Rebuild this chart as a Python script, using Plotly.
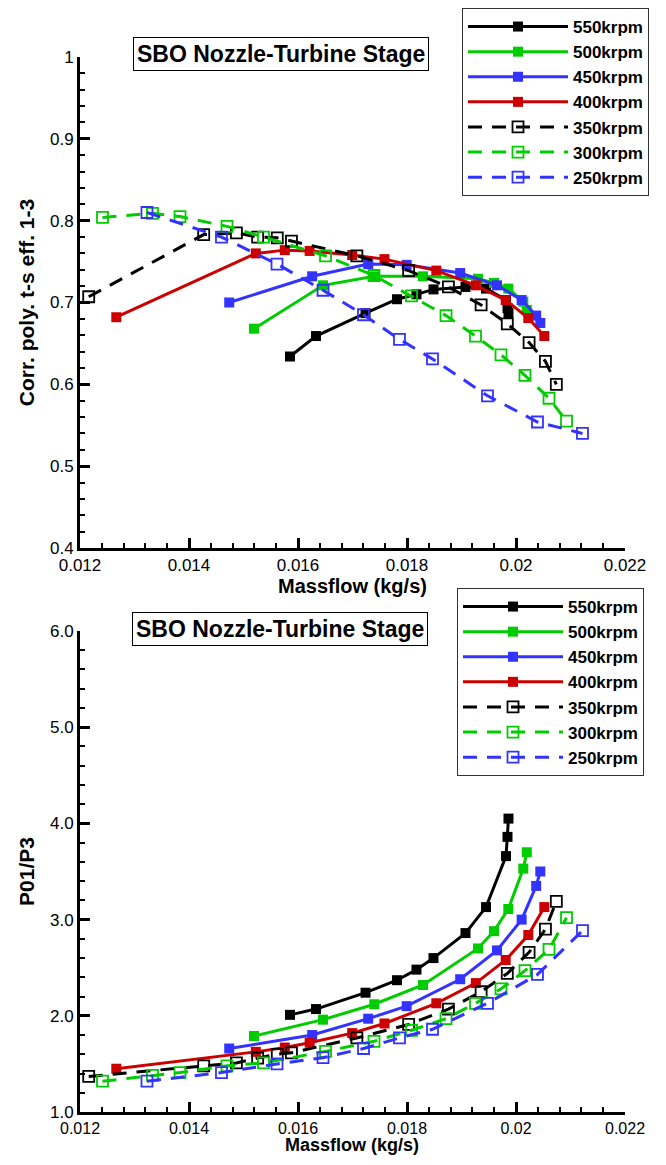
import plotly.graph_objects as go

# ---------------- data ----------------
speeds = ["550krpm", "500krpm", "450krpm", "400krpm", "350krpm", "300krpm", "250krpm"]

m550 = [0.015853, 0.016330, 0.017239, 0.017817, 0.018174, 0.018486, 0.019073, 0.019450, 0.019817, 0.019844, 0.019862]
eff550 = [0.634, 0.659, 0.687, 0.704, 0.710, 0.716, 0.719, 0.717, 0.703, 0.693, 0.687]
pr550 = [2.01, 2.07, 2.24, 2.37, 2.48, 2.60, 2.86, 3.13, 3.66, 3.86, 4.05]

m500 = [0.015193, 0.016459, 0.017400, 0.018294, 0.019303, 0.019596, 0.019859, 0.020134, 0.020198]
eff500 = [0.668, 0.721, 0.732, 0.732, 0.729, 0.724, 0.717, 0.701, 0.691]
pr500 = [1.79, 1.96, 2.12, 2.32, 2.70, 2.88, 3.11, 3.53, 3.70]

m450 = [0.014738, 0.016260, 0.017288, 0.017994, 0.018976, 0.019651, 0.020104, 0.020370, 0.020446]
eff450 = [0.700, 0.732, 0.747, 0.746, 0.736, 0.721, 0.703, 0.684, 0.675]
pr450 = [1.66, 1.80, 1.97, 2.10, 2.38, 2.68, 3.00, 3.35, 3.50]

m400 = [0.012666, 0.015226, 0.015758, 0.016214, 0.016994, 0.017587, 0.018538, 0.019263, 0.019811, 0.020226, 0.020520]
eff400 = [0.682, 0.760, 0.764, 0.763, 0.758, 0.753, 0.739, 0.721, 0.703, 0.681, 0.659]
pr400 = [1.45, 1.625, 1.67, 1.72, 1.82, 1.92, 2.13, 2.34, 2.58, 2.84, 3.13]

m350 = [0.01216, 0.01427, 0.01487, 0.01526, 0.01562, 0.01588, 0.01708, 0.01803, 0.01876, 0.01936, 0.01984, 0.02024, 0.02054, 0.02074]
eff350 = [0.707, 0.783, 0.785, 0.780, 0.779, 0.775, 0.757, 0.739, 0.719, 0.697, 0.674, 0.651, 0.628, 0.600]
pr350 = [1.37, 1.48, 1.51, 1.56, 1.60, 1.615, 1.77, 1.91, 2.07, 2.25, 2.44, 2.66, 2.90, 3.19]

m300 = [0.012413, 0.013330, 0.013835, 0.014697, 0.015367, 0.016505, 0.017394, 0.018083, 0.018716, 0.019257, 0.019725, 0.020165, 0.020606, 0.020927]
eff300 = [0.804, 0.809, 0.805, 0.793, 0.780, 0.757, 0.733, 0.708, 0.684, 0.659, 0.636, 0.611, 0.583, 0.555]
pr300 = [1.32, 1.38, 1.41, 1.48, 1.51, 1.63, 1.735, 1.85, 1.97, 2.13, 2.28, 2.47, 2.69, 3.02]

m250 = [0.013229, 0.014596, 0.015615, 0.016459, 0.017202, 0.017862, 0.018468, 0.019477, 0.020394, 0.021220]
eff250 = [0.810, 0.780, 0.747, 0.715, 0.685, 0.655, 0.631, 0.586, 0.554, 0.540]
pr250 = [1.32, 1.41, 1.50, 1.565, 1.66, 1.77, 1.86, 2.13, 2.43, 2.885]

masses = [m550, m500, m450, m400, m350, m300, m250]
effs = [eff550, eff500, eff450, eff400, eff350, eff300, eff250]
prs = [pr550, pr500, pr450, pr400, pr350, pr300, pr250]

colors = ["#000000", "#00cc00", "#3333ff", "#cc0000", "#000000", "#00cc00", "#3333ff"]
filled = [True, True, True, True, False, False, False]

title_text = "SBO Nozzle-Turbine Stage"
xlabel = "Massflow (kg/s)"
ylabel_top = "Corr. poly. t-s eff. 1-3"
ylabel_bot = "P01/P3"

FONT = "Liberation Sans, Arial, Helvetica, sans-serif"

fig = go.Figure()


def style(i):
    c = colors[i]
    if filled[i]:
        line = dict(color=c, width=3)
        marker = dict(symbol="square", size=10, color=c, line=dict(width=0))
    else:
        line = dict(color=c, width=3, dash="14px,10px")
        marker = dict(symbol="square-open", size=11, color=c, line=dict(width=1.8, color=c))
    return line, marker


for i, name in enumerate(speeds):
    line, marker = style(i)
    fig.add_trace(go.Scatter(x=masses[i], y=effs[i], mode="lines+markers", name=name,
                             line=line, marker=marker, xaxis="x", yaxis="y", legend="legend"))
for i, name in enumerate(speeds):
    line, marker = style(i)
    fig.add_trace(go.Scatter(x=masses[i], y=prs[i], mode="lines+markers", name=name,
                             line=line, marker=marker, xaxis="x2", yaxis="y2", legend="legend2"))

# page has an 8px body margin: lay the figure out in reference pixels shifted by 8
OFF = 8
BOT = 1112  # bottom axis line (reference pixels)
W, H = 666 - 2 * OFF, 1165 - 2 * OFF
ml = 80 - OFF
mr = W - (625 - OFF)
mt = 57 - OFF
mb = H - (BOT - OFF)
ph = H - mt - mb
pw = W - ml - mr


def py(ref):
    return (H - mb - (ref - OFF)) / ph


def px(ref):
    return ((ref - OFF) - ml) / pw


axis_common = dict(
    showline=True, linewidth=3, linecolor="black", mirror=False,
    ticks="inside", ticklen=10, tickwidth=2.5, tickcolor="black",
    showgrid=False, zeroline=False,
    tickfont=dict(family=FONT, size=17, color="black"),
    automargin=False,
)

xcommon = dict(axis_common, range=[0.012, 0.022], dtick=0.002, tick0=0.012,
               minor=dict(ticks="inside", ticklen=5, tickwidth=1.5, tickcolor="black", dtick=0.0004, showgrid=False))

top_dom = [py(548), 1.0]
bot_dom = [0.0, py(631)]

legend_common = dict(xanchor="left", yanchor="top",
                     bordercolor="#333333", borderwidth=1, bgcolor="white",
                     font=dict(family=FONT, size=17, color="black", weight="bold"),
                     itemwidth=100, tracegroupgap=0)

ann_box = dict(xref="paper", yref="paper", xanchor="center", yanchor="middle", showarrow=False,
               font=dict(family=FONT, size=23, color="black"),
               bordercolor="black", borderwidth=1, borderpad=3, bgcolor="white")
ann_x = dict(xref="paper", yref="paper", xanchor="center", yanchor="middle", showarrow=False,
             font=dict(family=FONT, size=20, color="black"))

fig.update_layout(
    width=W, height=H,
    margin=dict(l=ml, r=mr, t=mt, b=mb, autoexpand=False),
    paper_bgcolor="white", plot_bgcolor="white",
    font=dict(family=FONT, color="black"),
    xaxis=dict(xcommon, anchor="y", domain=[0, 1]),
    xaxis2=dict(xcommon, anchor="y2", domain=[0, 1], tickfont=dict(family=FONT, size=16, color="black")),
    yaxis=dict(axis_common, domain=top_dom, range=[0.4, 1.0], dtick=0.1, tick0=0.4, anchor="x",
               minor=dict(ticks="inside", ticklen=5, tickwidth=1.5, tickcolor="black", dtick=0.02, showgrid=False),
               title=dict(text="<b>" + ylabel_top + "</b>", font=dict(family=FONT, size=21, color="black"), standoff=10)),
    yaxis2=dict(axis_common, domain=bot_dom, range=[1.0, 6.0], dtick=1.0, tick0=1.0, tickformat=".1f", anchor="x2",
                minor=dict(ticks="inside", ticklen=5, tickwidth=1.5, tickcolor="black", dtick=0.2, showgrid=False),
                title=dict(text="<b>" + ylabel_bot + "</b>", font=dict(family=FONT, size=21, color="black"), standoff=10)),
    legend=dict(legend_common, x=px(462), y=py(8)),
    legend2=dict(legend_common, x=px(457), y=py(588)),
    showlegend=True,
    annotations=[
        dict(ann_box, text="<b>" + title_text + "</b>", x=px(281), y=py(54)),
        dict(ann_box, text="<b>" + title_text + "</b>", x=px(280), y=py(629)),
        dict(ann_x, text="<b>" + xlabel + "</b>", x=px(352), y=py(586)),
        dict(dict(ann_x, font=dict(family=FONT, size=18, color="black")),
             text="<b>" + xlabel + "</b>", x=px(352), y=py(1145)),
    ],
)

fig.write_html("out.html")
